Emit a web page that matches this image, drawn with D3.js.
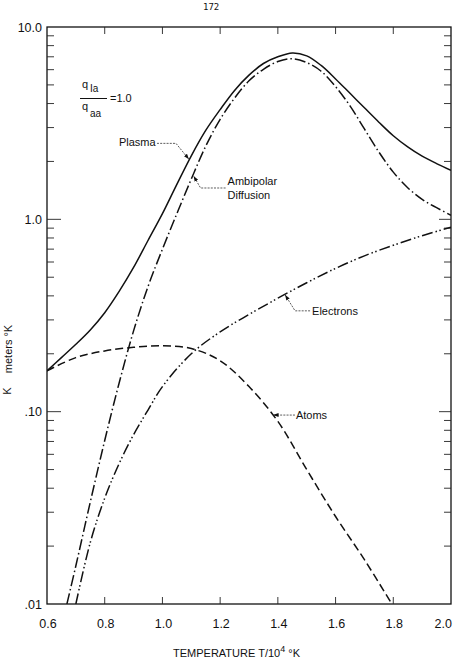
<!DOCTYPE html>
<html><head><meta charset="utf-8">
<script src="https://cdn.jsdelivr.net/npm/d3@7/dist/d3.min.js"></script>
<style>body{margin:0;background:#fff;overflow:hidden} svg{display:block}</style>
</head><body>
<script>
// ---------- data ----------
const xTicks = [0.6, 0.8, 1.0, 1.2, 1.4, 1.6, 1.8, 2.0];
const xTickLabels = ["0.6", "0.8", "1.0", "1.2", "1.4", "1.6", "1.8", "2.0"];
const yTicks = [10, 1, 0.1, 0.01];
const yTickLabels = ["10.0", "1.0", ".10", ".01"];

const plasmaT = [0.6, 0.65, 0.7, 0.75, 0.8, 0.85, 0.9, 0.95, 1.0, 1.05, 1.1, 1.15, 1.2, 1.25, 1.3, 1.35, 1.4, 1.45, 1.5, 1.55, 1.6, 1.65, 1.7, 1.75, 1.8, 1.85, 1.9, 1.95, 2.0];
const plasmaV = [0.163, 0.191, 0.224, 0.266, 0.327, 0.422, 0.562, 0.776, 1.07, 1.52, 2.14, 2.90, 3.72, 4.68, 5.62, 6.46, 7.0, 7.33, 7.08, 6.31, 5.37, 4.52, 3.80, 3.20, 2.72, 2.38, 2.13, 1.95, 1.80];

const ambiT = [0.669, 0.7, 0.75, 0.8, 0.85, 0.9, 0.95, 1.0, 1.05, 1.1, 1.15, 1.2, 1.25, 1.3, 1.35, 1.4, 1.45, 1.5, 1.55, 1.6, 1.65, 1.7, 1.75, 1.8, 1.85, 1.9, 1.95, 2.0];
const ambiV = [0.010, 0.0158, 0.0339, 0.0708, 0.141, 0.263, 0.447, 0.70, 1.07, 1.62, 2.40, 3.31, 4.27, 5.25, 6.03, 6.61, 6.84, 6.53, 5.89, 4.90, 3.89, 2.95, 2.24, 1.76, 1.46, 1.27, 1.15, 1.05];

const elecT = [0.70, 0.75, 0.80, 0.85, 0.90, 0.95, 1.00, 1.10, 1.20, 1.30, 1.40, 1.50, 1.60, 1.70, 1.80, 1.90, 2.00];
const elecV = [0.010, 0.0209, 0.0355, 0.0537, 0.0759, 0.102, 0.135, 0.200, 0.260, 0.320, 0.389, 0.468, 0.556, 0.646, 0.733, 0.822, 0.910];

const atomT = [0.6, 0.7, 0.8, 0.9, 1.0, 1.1, 1.2, 1.3, 1.4, 1.5, 1.6, 1.7, 1.795];
const atomV = [0.163, 0.191, 0.207, 0.216, 0.220, 0.213, 0.184, 0.135, 0.089, 0.050, 0.0285, 0.0170, 0.010];

// ---------- layout ----------
const W = 453, H = 660;
const svg = d3.select("body").append("svg").attr("width", W).attr("height", H);
const x = d3.scaleLinear().domain([0.6, 2.0]).range([47, 451]);
const y = d3.scaleLog().domain([0.01, 10]).range([604, 27]);
const font = "'Liberation Sans', Arial, sans-serif";

// frame
svg.append("rect").attr("x", x(0.6)).attr("y", y(10))
  .attr("width", x(2.0) - x(0.6)).attr("height", y(0.01) - y(10))
  .attr("fill", "none").attr("stroke", "#111").attr("stroke-width", 1.3);

// y ticks (left & right, inward)
const minor = [];
[0.01, 0.1, 1].forEach(d => { for (let k = 2; k <= 9; k++) minor.push(d * k); });
const tg = svg.append("g").attr("stroke", "#222").attr("stroke-width", 0.9);
minor.forEach(v => {
  tg.append("line").attr("x1", x(0.6)).attr("x2", x(0.6) + 7).attr("y1", y(v)).attr("y2", y(v));
  tg.append("line").attr("x1", x(2.0)).attr("x2", x(2.0) - 7).attr("y1", y(v)).attr("y2", y(v));
});
[1, 0.1].forEach(v => {
  tg.append("line").attr("x1", x(0.6)).attr("x2", x(0.6) + 14).attr("y1", y(v)).attr("y2", y(v));
  tg.append("line").attr("x1", x(2.0)).attr("x2", x(2.0) - 12).attr("y1", y(v)).attr("y2", y(v));
});
// x ticks (top & bottom, inward)
xTicks.slice(1, -1).forEach(t => {
  tg.append("line").attr("x1", x(t)).attr("x2", x(t)).attr("y1", y(0.01)).attr("y2", y(0.01) - 7);
  tg.append("line").attr("x1", x(t)).attr("x2", x(t)).attr("y1", y(10)).attr("y2", y(10) + 7);
});

// tick labels
xTicks.forEach((t, i) => {
  const last = i === xTicks.length - 1;
  svg.append("text").attr("x", last ? 452 : x(t) + 1).attr("y", 628)
    .attr("text-anchor", last ? "end" : "middle")
    .attr("font-family", font).attr("font-size", 12.5).attr("fill", "#111").text(xTickLabels[i]);
});
yTicks.forEach((v, i) => {
  svg.append("text").attr("x", 42).attr("y", y(v) + 4.5).attr("text-anchor", "end")
    .attr("font-family", font).attr("font-size", 12.5).attr("fill", "#111").text(yTickLabels[i]);
});

// axis titles
const xt = svg.append("text").attr("x", 173).attr("y", 657)
  .attr("font-family", font).attr("font-size", 11).attr("fill", "#111");
xt.append("tspan").text("TEMPERATURE   T/10");
xt.append("tspan").attr("dy", -5).attr("font-size", 9).text("4");
xt.append("tspan").attr("dy", 5).text(" °K");

svg.append("text").attr("transform", "translate(12,349) rotate(-90)").attr("text-anchor", "middle")
  .attr("font-family", font).attr("font-size", 11).attr("fill", "#111").text("meters °K");
svg.append("text").attr("transform", "translate(11,391) rotate(-90)").attr("text-anchor", "middle")
  .attr("font-family", font).attr("font-size", 11).attr("fill", "#111").text("K");

// page number
svg.append("text").attr("x", 203).attr("y", 10).attr("font-family", "'DejaVu Sans Mono', monospace")
  .attr("font-size", 9).attr("fill", "#111").text("172");

// ---------- curves ----------
const line = d3.line().x(d => x(d[0])).y(d => y(d[1])).curve(d3.curveCatmullRom.alpha(0.5));
const zip = (a, b) => a.map((t, i) => [t, b[i]]);
const series = [
  { T: plasmaT, V: plasmaV, dash: null },
  { T: ambiT, V: ambiV, dash: "11,3,1.5,3" },
  { T: elecT, V: elecV, dash: "11,3,1.5,2.5,1.5,3" },
  { T: atomT, V: atomV, dash: "8,4" }
];
svg.append("clipPath").attr("id", "clip").append("rect")
  .attr("x", x(0.6)).attr("y", y(10)).attr("width", x(2.0) - x(0.6)).attr("height", y(0.01) - y(10));
const cg = svg.append("g").attr("clip-path", "url(#clip)");
series.forEach(s => {
  cg.append("path").attr("d", line(zip(s.T, s.V))).attr("fill", "none")
    .attr("stroke", "#111").attr("stroke-width", 1.5)
    .attr("stroke-dasharray", s.dash);
});

// ---------- annotations ----------
svg.append("defs").append("marker").attr("id", "arr").attr("viewBox", "0 0 10 10")
  .attr("refX", 10).attr("refY", 5).attr("markerWidth", 7).attr("markerHeight", 7)
  .attr("orient", "auto").append("path").attr("d", "M0,1.5 L10,5 L0,8.5 Z").attr("fill", "#111");

function leader(pts) {
  svg.append("path").attr("d", d3.line()(pts)).attr("fill", "none").attr("stroke", "#333")
    .attr("stroke-width", 0.8).attr("stroke-dasharray", "2,1.2").attr("marker-end", "url(#arr)");
}
function label(tx, ty, str, anchor) {
  svg.append("text").attr("x", tx).attr("y", ty).attr("text-anchor", anchor || "start")
    .attr("font-family", font).attr("font-size", 11).attr("fill", "#111").text(str);
}
// Plasma
const pTip = [x(1.092), y(2.05)];
label(pTip[0] - 70, pTip[1] - 13, "Plasma");
leader([[pTip[0] - 32, pTip[1] - 16], [pTip[0] - 13, pTip[1] - 16], pTip]);
// Ambipolar
const aTip = [x(1.108), y(1.68)];
label(aTip[0] + 34, aTip[1] + 9, "Ambipolar");
label(aTip[0] + 34, aTip[1] + 23, "Diffusion");
leader([[aTip[0] + 32, aTip[1] + 12], [aTip[0] + 7, aTip[1] + 12], aTip]);
// Electrons
const eTip = [x(1.425), y(0.405)];
label(eTip[0] + 27, eTip[1] + 20, "Electrons");
leader([[eTip[0] + 25, eTip[1] + 16], [eTip[0] + 10, eTip[1] + 16], eTip]);
// Atoms
const tTip = [x(1.383), y(0.096)];
label(tTip[0] + 23, tTip[1] + 4, "Atoms");
leader([[tTip[0] + 22, tTip[1]], tTip]);

// q ratio
const qg = svg.append("g").attr("font-family", font).attr("fill", "#111");
qg.append("text").attr("x", 82).attr("y", 88).attr("font-size", 11).text("q");
qg.append("text").attr("x", 90).attr("y", 92).attr("font-size", 10).text("Ia");
qg.append("line").attr("x1", 80).attr("x2", 107).attr("y1", 98.5).attr("y2", 98.5).attr("stroke", "#111").attr("stroke-width", 1);
qg.append("text").attr("x", 82).attr("y", 110).attr("font-size", 11).text("q");
qg.append("text").attr("x", 90).attr("y", 117).attr("font-size", 10).text("aa");
qg.append("text").attr("x", 110).attr("y", 102).attr("font-size", 11).text("=1.0");
</script>
</body></html>
